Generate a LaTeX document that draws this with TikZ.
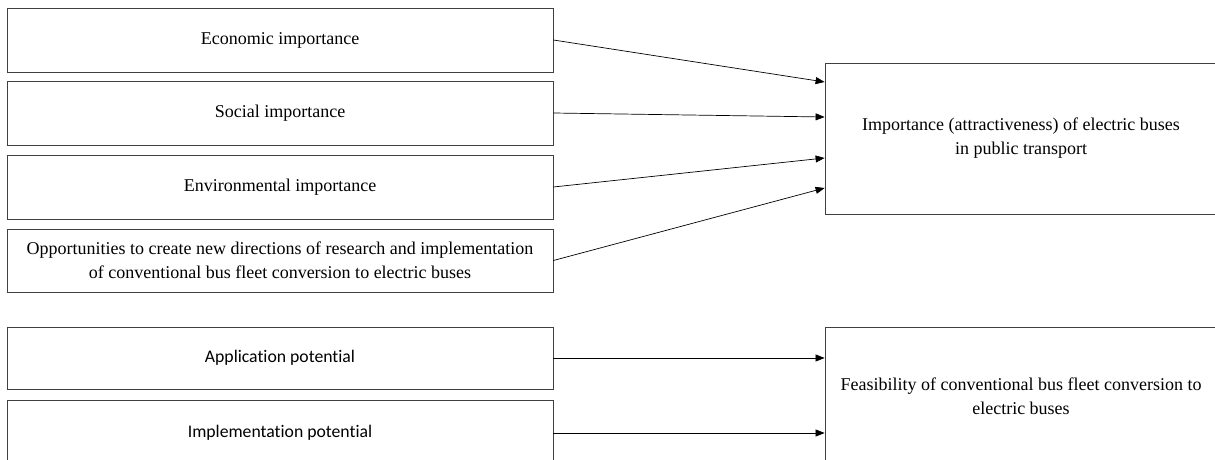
\documentclass[tikz,border=0pt]{standalone}
\usepackage{fontspec}
\setmainfont{Liberation Serif}
\newfontfamily\potfont[Ligatures=NoCommon]{Carlito}
\usetikzlibrary{arrows.meta, positioning, calc}

\begin{document}
\begin{tikzpicture}[x=1pt, y=-1pt,
    factor/.style={draw=black!75, line width=0.8pt, minimum width=546pt, align=center, font=\fontsize{18}{24}\selectfont},
    result/.style={draw=black!75, line width=0.8pt, minimum width=392pt, align=center, font=\fontsize{18}{24}\selectfont},
    link/.style={-{Triangle[length=9pt, width=7pt]}, line width=0.7pt}]
    \clip (0,0) rectangle (1215,460);
    % Importance factors
    \node[factor, minimum height=64pt] (econ) at (280,40) {Economic importance};
    \node[factor, minimum height=64pt] (social) at (280,113) {Social importance};
    \node[factor, minimum height=64pt] (env) at (280,187) {Environmental importance};
    \node[factor, minimum height=63pt] (opp) at (280,260.5) {Opportunities to create new directions of research and implementation\\of conventional bus fleet conversion to electric buses};
    % Potentials
    \node[factor, minimum height=62pt, font=\potfont\fontsize{17.7}{24}\selectfont] (appl) at (280,358) {Application potential};
    \node[factor, minimum height=66pt, font=\potfont\fontsize{17.7}{24}\selectfont] (impl) at (280,433) {Implementation potential};
    % Results
    \node[result, minimum height=151pt] (attr) at (1021,138.5) {Importance (attractiveness) of electric buses\\in public transport};
    \node[result, minimum height=138pt] (feas) at (1021,396) {Feasibility of conventional bus fleet conversion to\\electric buses};
    % Links
    \draw[link] (econ.east) -- ([yshift=56.5pt]attr.west);
    \draw[link] (social.east) -- ([yshift=21.5pt]attr.west);
    \draw[link] (env.east) -- ([yshift=-19.5pt]attr.west);
    \draw[link] (opp.east) -- ([yshift=-49.5pt]attr.west);
    \draw[link] (appl.east) -- (appl.east -| feas.west);
    \draw[link] (impl.east) -- (impl.east -| feas.west);
\end{tikzpicture}
\end{document}
